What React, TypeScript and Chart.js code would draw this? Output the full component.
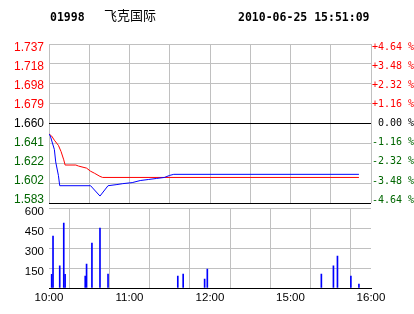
import React, { useEffect, useRef } from 'react';
import { Chart, registerables } from 'chart.js';

Chart.register(...registerables);

const STOCK_CODE = '01998';
const STOCK_NAME = '飞克国际';
const TIMESTAMP = '2010-06-25 15:51:09';

const PRICE_MIN = 1.583;
const PRICE_MAX = 1.737;
const PRICE_TICK_LABELS = ['1.583', '1.602', '1.622', '1.641', '1.660', '1.679', '1.698', '1.718', '1.737'];
const PCT_TICK_LABELS = ['-4.64 %', '-3.48 %', '-2.32 %', '-1.16 %', ' 0.00 %', '+1.16 %', '+2.32 %', '+3.48 %', '+4.64 %'];
const VOLUME_MAX = 600;
const VOLUME_TICKS = [0, 150, 300, 450, 600];
const VOLUME_TICK_LABELS = ['', '150', '300', '450', '600'];
const SESSION_MINUTES = 240;
const GRID_MINUTES = [0, 30, 60, 90, 120, 150, 180, 210, 240];
const TIME_TICK_LABELS: Record<number, string> = { 0: '10:00', 60: '11:00', 120: '12:00', 180: '15:00', 240: '16:00' };

// price (blue)
const priceMinutes = [0, 1, 4, 5, 7, 8, 31, 38, 44, 50, 55, 62, 68, 74, 80, 86, 90, 93, 231];
const priceValues = [1.65, 1.648, 1.635, 1.623, 1.61, 1.6, 1.6, 1.59, 1.6, 1.601, 1.602, 1.603, 1.605, 1.606, 1.607, 1.608, 1.61, 1.611, 1.611];

// average price (red)
const avgMinutes = [0, 2, 4, 7, 9, 11, 12, 20, 22, 28, 31, 34, 38, 40, 231];
const avgValues = [1.65, 1.648, 1.644, 1.639, 1.633, 1.625, 1.62, 1.62, 1.619, 1.617, 1.614, 1.612, 1.609, 1.608, 1.608];

// volume
const volumeMinutes = [2, 3, 8, 11, 12, 27, 28, 32, 38, 44, 96, 100, 116, 118, 203, 212, 215, 225, 231];
const volumeValues = [103, 391, 166, 489, 103, 90, 181, 339, 452, 105, 90, 105, 68, 143, 105, 166, 241, 90, 30];

const RED = '#ff0000';
const GREEN = '#006600';
const GRID = '#c0c0c0';
const BLUE = '#0000ff';

const LEFT_W = 49;
const RIGHT_W = 43;
const PRICE_TOP = 44;
const PRICE_BOTTOM = 203.3;
const VOL_TOP = 208.3;
const VOL_BOTTOM = 288;
const W = 414;
const H = 314;
const LABEL_INSET = 0.168; // labels are spread slightly inside the panel

const N_PRICE = PRICE_TICK_LABELS.length;
const priceTickValues = PRICE_TICK_LABELS.map((_, i) => PRICE_MIN + (i * (PRICE_MAX - PRICE_MIN)) / (N_PRICE - 1));
const tickColor = (i: number) => (i < 4 ? GREEN : i === 4 ? '#000000' : RED);

export default function App() {
  const priceRef = useRef<HTMLCanvasElement>(null);
  const volRef = useRef<HTMLCanvasElement>(null);

  useEffect(() => {
    document.body.style.margin = '0';
    const xGridScale: any = {
      type: 'linear',
      min: 0,
      max: SESSION_MINUTES,
      offset: false,
      afterBuildTicks: (s: any) => {
        s.ticks = GRID_MINUTES.map((v) => ({ value: v }));
      },
    };

    const labelAxis = (position: string, labels: string[], font: any, padding: number, width: number): any => ({
      type: 'linear',
      position,
      min: -LABEL_INSET,
      max: N_PRICE - 1 + LABEL_INSET,
      afterBuildTicks: (s: any) => {
        s.ticks = labels.map((_, i) => ({ value: i }));
      },
      afterFit: (s: any) => {
        s.width = width;
      },
      ticks: {
        callback: (_v: any, i: number) => labels[i],
        color: (c: any) => tickColor(c.index),
        font,
        padding,
      },
      grid: { display: false, drawTicks: false },
      border: { display: false },
    });

    const priceChart = new Chart(priceRef.current!, {
      type: 'line',
      data: {
        datasets: [
          {
            data: priceMinutes.map((m, i) => ({ x: m, y: priceValues[i] })),
            borderColor: BLUE,
            borderWidth: 1,
            pointRadius: 0,
            tension: 0,
            yAxisID: 'y',
          },
          {
            data: avgMinutes.map((m, i) => ({ x: m, y: avgValues[i] })),
            borderColor: RED,
            borderWidth: 1,
            pointRadius: 0,
            tension: 0,
            yAxisID: 'y',
          },
        ],
      },
      options: {
        animation: false,
        responsive: false,
        devicePixelRatio: 1,
        layout: { padding: { top: PRICE_TOP, bottom: H - PRICE_BOTTOM, left: 0, right: 0 } },
        plugins: { legend: { display: false }, tooltip: { enabled: false } },
        scales: {
          x: {
            ...xGridScale,
            ticks: { display: false },
            grid: { color: GRID, drawTicks: false },
            border: { display: false },
          },
          y: {
            type: 'linear',
            position: 'left',
            min: PRICE_MIN,
            max: PRICE_MAX,
            afterBuildTicks: (s: any) => {
              s.ticks = priceTickValues.map((v) => ({ value: v }));
            },
            afterFit: (s: any) => {
              s.width = 0;
            },
            ticks: { display: false },
            grid: {
              color: (c: any) => (c.index === 0 || c.index === 4 ? '#000000' : GRID),
              drawTicks: false,
            },
            border: { display: false },
          },
          yl: labelAxis('left', PRICE_TICK_LABELS, { family: 'Liberation Sans', size: 12 }, 5, LEFT_W),
          yr: labelAxis('right', PCT_TICK_LABELS, { family: 'DejaVu Sans Mono', size: 10 }, 1, RIGHT_W),
        },
      } as any,
    });

    const volChart = new Chart(volRef.current!, {
      type: 'bar',
      data: {
        datasets: [
          {
            data: volumeMinutes.map((m, i) => ({ x: m, y: volumeValues[i] })),
            backgroundColor: BLUE,
            barThickness: 1,
            yAxisID: 'y',
          },
        ],
      },
      options: {
        animation: false,
        responsive: false,
        devicePixelRatio: 1,
        layout: { padding: { top: VOL_TOP, bottom: 0, left: 0, right: 0 } },
        plugins: { legend: { display: false }, tooltip: { enabled: false } },
        scales: {
          x: {
            ...xGridScale,
            afterFit: (s: any) => {
              s.height = H - VOL_BOTTOM;
            },
            ticks: {
              autoSkip: false,
              maxRotation: 0,
              callback: (v: any) => TIME_TICK_LABELS[v as number] ?? '',
              color: '#000000',
              font: { family: 'Liberation Sans', size: 11.5 },
              padding: 3,
            },
            grid: { color: GRID, drawTicks: false },
            border: { display: true, color: '#000000' },
          },
          y: {
            type: 'linear',
            position: 'left',
            min: 0,
            max: VOLUME_MAX,
            afterBuildTicks: (s: any) => {
              s.ticks = VOLUME_TICKS.map((v) => ({ value: v }));
            },
            afterFit: (s: any) => {
              s.width = LEFT_W;
            },
            ticks: {
              callback: (_v: any, i: number) => VOLUME_TICK_LABELS[i],
              color: '#000000',
              font: { family: 'Liberation Sans', size: 11.5 },
              padding: 5,
              labelOffset: 3.5,
            },
            grid: {
              color: (c: any) => (c.index === 0 ? '#000000' : GRID),
              drawTicks: false,
            },
            border: { display: false },
          },
          y2: {
            type: 'linear',
            position: 'right',
            min: 0,
            max: VOLUME_MAX,
            afterFit: (s: any) => {
              s.width = RIGHT_W;
            },
            ticks: { display: false },
            grid: { display: false, drawTicks: false },
            border: { display: false },
          },
        },
      } as any,
    });

    return () => {
      priceChart.destroy();
      volChart.destroy();
    };
  }, []);

  const monoBold: React.CSSProperties = {
    position: 'absolute',
    fontFamily: 'DejaVu Sans Mono',
    fontWeight: 'bold',
    fontSize: '11.5px',
    lineHeight: '14px',
    top: 10,
    color: '#000',
    whiteSpace: 'pre',
  };

  return (
    <div style={{ position: 'relative', width: W, height: H, background: '#ffffff', overflow: 'hidden' }}>
      <canvas ref={priceRef} width={W} height={H} style={{ position: 'absolute', left: 0, top: 0 }} />
      <canvas ref={volRef} width={W} height={H} style={{ position: 'absolute', left: 0, top: 0 }} />
      <div style={{ ...monoBold, left: 50 }}>{STOCK_CODE}</div>
      <div
        style={{
          position: 'absolute',
          left: 104,
          top: 6,
          fontFamily: 'Noto Sans CJK SC',
          fontSize: '13px',
          lineHeight: '17px',
          color: '#000',
        }}
      >
        {STOCK_NAME}
      </div>
      <div style={{ ...monoBold, left: 238 }}>{TIMESTAMP}</div>
    </div>
  );
}
